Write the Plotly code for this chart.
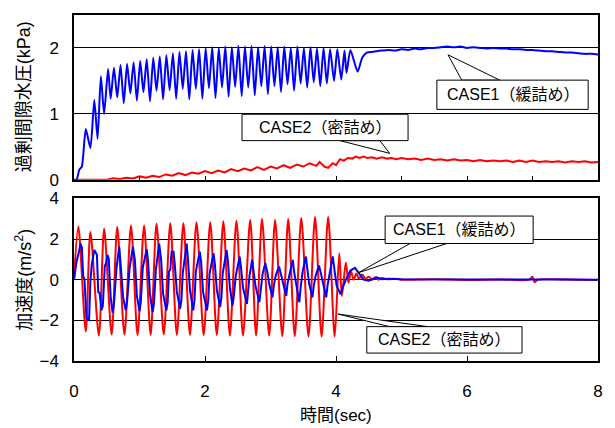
import plotly.graph_objects as go

# ---------------- data ----------------
# Top: excess pore water pressure (kPa)
pp1_t = [0.00, 0.04, 0.08, 0.12, 0.18, 0.25, 0.31, 0.36, 0.41, 0.46, 0.52, 0.56,
         0.61, 0.66, 0.71, 0.76, 0.81, 0.86, 0.91, 0.96, 1.01, 1.06, 1.11, 1.16,
         1.21, 1.26, 1.31, 1.36, 1.41, 1.46, 1.51, 1.56, 1.61, 1.66, 1.71, 1.76,
         1.81, 1.86, 1.91, 1.96, 2.01, 2.06, 2.11, 2.16, 2.21, 2.26, 2.31, 2.36,
         2.41, 2.46, 2.51, 2.56, 2.61, 2.66, 2.71, 2.76, 2.81, 2.86, 2.91, 2.96,
         3.01, 3.06, 3.11, 3.16, 3.21, 3.26, 3.31, 3.36, 3.41, 3.46, 3.51, 3.56,
         3.61, 3.66, 3.71, 3.76, 3.81, 3.86, 3.91, 3.97, 4.02, 4.08, 4.13, 4.16,
         4.22, 4.33, 4.40, 4.47, 4.55, 4.62, 4.70, 4.80, 4.90, 5.00, 5.10, 5.20,
         5.30, 5.40, 5.50, 5.60, 5.70, 5.80, 5.90, 6.00, 6.10, 6.20, 6.30, 6.40,
         6.50, 6.60, 6.70, 6.80, 6.90, 7.00, 7.10, 7.20, 7.30, 7.40, 7.50, 7.60,
         7.70, 7.80, 7.90, 8.00]
pp1_v = [0.00, 0.00, 0.15, 0.20, 0.77, 0.48, 1.21, 0.62, 1.57, 1.00, 1.68, 1.23,
         1.70, 1.25, 1.74, 1.16, 1.76, 1.31, 1.78, 1.20, 1.80, 1.33, 1.83, 1.19,
         1.85, 1.35, 1.87, 1.22, 1.89, 1.36, 1.92, 1.23, 1.94, 1.38, 1.95, 1.22,
         1.97, 1.38, 1.98, 1.23, 2.00, 1.39, 2.01, 1.24, 2.00, 1.40, 2.02, 1.26,
         2.01, 1.41, 2.03, 1.27, 2.02, 1.40, 2.03, 1.28, 2.01, 1.42, 2.03, 1.30,
         2.02, 1.42, 2.01, 1.33, 2.02, 1.45, 2.00, 1.35, 2.02, 1.46, 2.00, 1.40,
         2.01, 1.48, 1.99, 1.42, 2.00, 1.46, 1.98, 1.50, 1.98, 1.52, 1.96, 1.62,
         1.97, 1.64, 1.85, 1.93, 1.94, 1.95, 1.96, 1.97, 1.96, 1.98, 1.97, 1.99,
         1.98, 2.00, 2.00, 2.01, 2.02, 2.01, 2.02, 2.00, 2.01, 2.00, 1.99, 2.00,
         1.99, 1.99, 1.98, 1.98, 1.97, 1.97, 1.96, 1.95, 1.95, 1.94, 1.93, 1.93,
         1.92, 1.91, 1.91, 1.90]

pp2_t = [0.00, 0.30, 0.40, 0.50, 0.60, 0.70, 0.80, 0.90, 1.00, 1.10, 1.20, 1.30,
         1.40, 1.50, 1.60, 1.70, 1.80, 1.90, 2.00, 2.10, 2.20, 2.30, 2.40, 2.50,
         2.60, 2.70, 2.80, 2.90, 3.00, 3.10, 3.20, 3.30, 3.40, 3.50, 3.60, 3.70,
         3.75, 3.82, 3.88, 3.95, 4.00, 4.06, 4.12, 4.18, 4.25, 4.30, 4.36, 4.42,
         4.48, 4.55, 4.62, 4.70, 4.78, 4.85, 4.92, 5.00, 5.10, 5.20, 5.30, 5.40,
         5.50, 5.60, 5.70, 5.80, 5.90, 6.00, 6.10, 6.20, 6.30, 6.40, 6.50, 6.60,
         6.70, 6.80, 6.90, 7.00, 7.10, 7.20, 7.30, 7.40, 7.50, 7.60, 7.70, 7.80,
         7.90, 8.00]
pp2_v = [0.00, 0.00, 0.01, 0.00, 0.02, 0.01, 0.03, 0.02, 0.05, 0.03, 0.06, 0.04,
         0.08, 0.06, 0.10, 0.07, 0.11, 0.09, 0.13, 0.10, 0.14, 0.11, 0.16, 0.13,
         0.17, 0.14, 0.19, 0.15, 0.20, 0.17, 0.22, 0.18, 0.23, 0.20, 0.25, 0.21,
         0.27, 0.20, 0.18, 0.25, 0.22, 0.31, 0.29, 0.33, 0.32, 0.35, 0.33, 0.35,
         0.33, 0.34, 0.32, 0.34, 0.32, 0.33, 0.31, 0.33, 0.31, 0.32, 0.30, 0.32,
         0.30, 0.31, 0.29, 0.31, 0.29, 0.30, 0.28, 0.30, 0.28, 0.29, 0.28, 0.29,
         0.27, 0.29, 0.27, 0.29, 0.27, 0.28, 0.27, 0.28, 0.26, 0.28, 0.27, 0.28,
         0.26, 0.27]

# Bottom: acceleration (m/s^2)
acc1_t = [0.00, 0.04, 0.07, 0.10, 0.12, 0.14, 0.16, 0.19, 0.23, 0.25, 0.27,
          0.31, 0.35, 0.37, 0.39, 0.42, 0.44, 0.47, 0.49,
          0.51, 0.53, 0.56, 0.59, 0.61, 0.65,
          0.69, 0.71, 0.75, 0.79, 0.81, 0.85,
          0.90, 0.93, 0.96, 1.00, 1.02, 1.05,
          1.11, 1.13, 1.16, 1.20, 1.22, 1.25,
          1.30, 1.33, 1.36, 1.41, 1.43, 1.45, 1.47,
          1.49, 1.52, 1.54, 1.57, 1.62, 1.64, 1.66,
          1.72, 1.74, 1.77, 1.82, 1.84, 1.86,
          1.92, 1.94, 1.97, 2.03, 2.05, 2.07,
          2.13, 2.15, 2.18, 2.23, 2.25, 2.27,
          2.33, 2.35, 2.38, 2.42, 2.44, 2.47,
          2.53, 2.55, 2.58, 2.64, 2.66, 2.68,
          2.72, 2.74, 2.77, 2.83, 2.85, 2.88,
          2.92, 2.95, 2.98, 3.03, 3.05, 3.08,
          3.13, 3.16, 3.19, 3.24, 3.26, 3.29,
          3.34, 3.36, 3.39, 3.44, 3.46, 3.49,
          3.54, 3.56, 3.59, 3.64, 3.66, 3.69,
          3.74, 3.77, 3.80, 3.85, 3.87, 3.90,
          3.95, 3.98, 4.01, 4.07, 4.10, 4.15, 4.22, 4.29, 4.35, 4.42, 4.50,
          4.62, 4.70, 4.80, 5.00, 5.50, 6.00, 6.50, 7.00, 7.50, 8.00]
acc1_a = [0.00, 0.90, 1.30, 1.78, 1.60, 0.20, 0.00, -1.90, -1.98, -0.10, 0.70,
          1.46, 1.22, -0.60, -0.65, -1.50, -1.30, 0.67, 0.83,
          1.22, 1.05, -0.87, -1.62, -1.20, 0.60,
          1.62, 0.84, -0.87, -1.50, -1.10, 0.60,
          1.62, 0.95, -0.80, -1.55, -1.10, 0.60,
          1.50, 0.95, -0.70, -1.59, -1.20, 0.50,
          1.78, 1.00, -0.70, -1.51, -1.10, 0.40, 0.50,
          1.38, 1.38, 0.70, -0.60, -1.43, -1.00, 0.30,
          1.78, 1.00, -0.50, -1.51, -1.00, 0.40,
          1.38, 0.90, -0.60, -1.51, -1.00, 0.30,
          1.30, 0.80, -0.50, -1.35, -0.90, 0.30,
          1.46, 0.90, -0.40, -1.27, -0.80, 0.20,
          1.14, 0.60, -0.40, -1.19, -0.60, 0.20,
          0.98, 0.50, -0.30, -1.11, -0.50, 0.30,
          0.82, 0.40, -0.20, -0.87, -0.30, 0.20,
          0.66, 0.30, -0.10, -0.80, -0.20, 0.30,
          0.98, 0.40, -0.20, -1.11, -0.40, 0.40,
          1.14, 0.50, -0.20, -0.87, -0.30, 0.20,
          0.70, 0.30, -0.20, -0.87, -0.30, 0.30,
          1.15, 0.40, -0.30, -0.72, -0.40, 0.00, 0.45, 0.58, 0.30, 0.00, -0.05,
          0.12, 0.02, 0.05, 0.02, 0.01, 0.02, 0.00, 0.01, 0.01, 0.00]

acc2_t = [0.00, 0.066, 0.18, 0.25, 0.38, 0.46, 0.575, 0.66, 0.77, 0.87, 0.97,
          1.07, 1.17, 1.26, 1.37, 1.47, 1.57, 1.67, 1.77, 1.87, 1.98, 2.08,
          2.18, 2.28, 2.38, 2.48, 2.58, 2.69, 2.78, 2.87, 2.98, 3.07, 3.18,
          3.27, 3.37, 3.47, 3.58, 3.68, 3.78, 3.88, 3.98, 4.05, 4.09, 4.15,
          4.19, 4.23, 4.27, 4.31, 4.35, 4.40, 4.45, 4.50, 4.55, 4.60, 4.65,
          4.70, 4.80, 4.90, 5.00, 5.50, 6.00, 6.50, 6.95, 7.00, 7.03, 7.08,
          7.50, 8.00]
acc2_a = [0.00, 2.62, -2.55, 2.35, -2.75, 2.50, -2.70, 2.59, -2.70, 2.67, -2.72,
          2.67, -2.72, 2.75, -2.70, 2.78, -2.72, 2.78, -2.72, 2.83, -2.72, 2.83,
          -2.72, 2.88, -2.75, 2.90, -2.75, 2.94, -2.75, 2.99, -2.75, 2.94, -2.78,
          2.99, -2.78, 3.04, -2.80, 3.08, -2.80, 3.08, -2.80, 1.30, -0.80, 0.85,
          -0.15, 0.40, 0.00, 0.30, 0.05, 0.25, 0.05, 0.15, 0.00, 0.12, 0.00,
          0.08, 0.02, 0.05, 0.00, 0.02, -0.01, 0.01, 0.00, 0.15, -0.12, 0.00,
          0.01, -0.02]

labels_top = ["CASE1（緩詰め）", "CASE2（密詰め）"]
labels_bot = ["CASE1（緩詰め）", "CASE2（密詰め）"]
ytitle_top = "過剰間隙水圧(kPa)"
ytitle_bot = "加速度(m/s<sup>2</sup>)"
xtitle = "時間(sec)"

FONT = "Liberation Sans, Arial, Noto Sans CJK JP"
BLUE = "#0000ff"
RED = "#ff0000"

fig = go.Figure()
fig.add_trace(go.Scatter(x=pp2_t, y=pp2_v, mode="lines", line=dict(color=RED, width=2),
                         xaxis="x", yaxis="y", showlegend=False))
fig.add_trace(go.Scatter(x=pp1_t, y=pp1_v, mode="lines", line=dict(color=BLUE, width=2, shape="spline", smoothing=0.6),
                         xaxis="x", yaxis="y", showlegend=False))
fig.add_trace(go.Scatter(x=acc2_t, y=acc2_a, mode="lines", line=dict(color=RED, width=2, shape="spline", smoothing=0.8),
                         xaxis="x2", yaxis="y2", showlegend=False))
fig.add_trace(go.Scatter(x=acc1_t, y=acc1_a, mode="lines", line=dict(color=BLUE, width=2),
                         xaxis="x2", yaxis="y2", showlegend=False))

shapes = []
annotations = []

def callout(xref, yref, box, base, apex, text):
    x0, x1, y0, y1 = box
    shapes.append(dict(type="path", xref=xref, yref=yref, layer="above",
                       path=f"M {base[0]},{base[1]} L {apex[0]},{apex[1]} L {base[2]},{base[3]} Z",
                       fillcolor="white", line=dict(color="black", width=1)))
    shapes.append(dict(type="rect", xref=xref, yref=yref, layer="above",
                       x0=x0, x1=x1, y0=y0, y1=y1,
                       fillcolor="white", line=dict(color="black", width=1)))
    annotations.append(dict(xref=xref, yref=yref, x=(x0 + x1) / 2, y=(y0 + y1) / 2,
                            text=text, showarrow=False, xanchor="center", yanchor="middle",
                            font=dict(size=16, color="black", family=FONT)))

callout("x", "y", (5.54, 7.85, 1.067, 1.511), (5.92, 1.511, 6.50, 1.511), (5.71, 1.896), labels_top[0])
callout("x", "y", (2.565, 5.10, 0.593, 0.993), (4.06, 0.593, 4.67, 0.593), (4.82, 0.40), labels_top[1])
callout("x2", "y2", (4.75, 7.01, 1.78, 3.13), (5.13, 1.78, 5.69, 1.78), (4.34, 0.34), labels_bot[0])
callout("x2", "y2", (4.47, 6.84, -3.61, -2.31), (4.82, -2.31, 5.40, -2.31), (4.03, -1.69), labels_bot[1])

annotations.append(dict(xref="paper", yref="paper", x=0, y=0.762, xshift=-50, textangle=-90,
                        text=ytitle_top, showarrow=False, xanchor="center", yanchor="middle",
                        font=dict(size=18, color="black", family=FONT)))
annotations.append(dict(xref="paper", yref="paper", x=0, y=0.235, xshift=-50, textangle=-90,
                        text=ytitle_bot, showarrow=False, xanchor="center", yanchor="middle",
                        font=dict(size=18, color="black", family=FONT)))
annotations.append(dict(xref="paper", yref="paper", x=0.5, y=0, yshift=-54,
                        text=xtitle, showarrow=False, xanchor="center", yanchor="middle",
                        font=dict(size=17, color="black", family=FONT)))

axis_common = dict(showline=True, mirror=True, linecolor="black", linewidth=1.5,
                   tickfont=dict(size=17, color="black", family=FONT), zeroline=False)

fig.update_layout(
    width=615, height=428,
    margin=dict(l=74, r=17, t=6, b=67),
    paper_bgcolor="white", plot_bgcolor="white",
    xaxis=dict(domain=[0, 1], anchor="y", range=[0, 8], tickmode="linear", tick0=0, dtick=1,
               ticks="inside", ticklen=4, tickcolor="black", showticklabels=False, showgrid=False,
               **axis_common),
    yaxis=dict(domain=[0.524, 1], anchor="x", range=[0, 2.5], tickvals=[0, 1, 2],
               ticks="", showgrid=True, gridcolor="black", gridwidth=1,
               ticklabelstandoff=10, **axis_common),
    xaxis2=dict(domain=[0, 1], anchor="y2", range=[0, 8], tickmode="linear", tick0=0, dtick=2,
                ticks="inside", ticklen=5, tickcolor="black", showgrid=False,
                ticklabelstandoff=14, **axis_common),
    yaxis2=dict(domain=[0, 0.470], anchor="x2", range=[-4, 4], tickvals=[-4, -2, 0, 2, 4],
                ticktext=["−4", "−2", "0", "2", "4"],
                ticks="", showgrid=True, gridcolor="black", gridwidth=1,
                ticklabelstandoff=10, **axis_common),
    shapes=shapes,
    annotations=annotations,
)

fig.write_html("out.html")
